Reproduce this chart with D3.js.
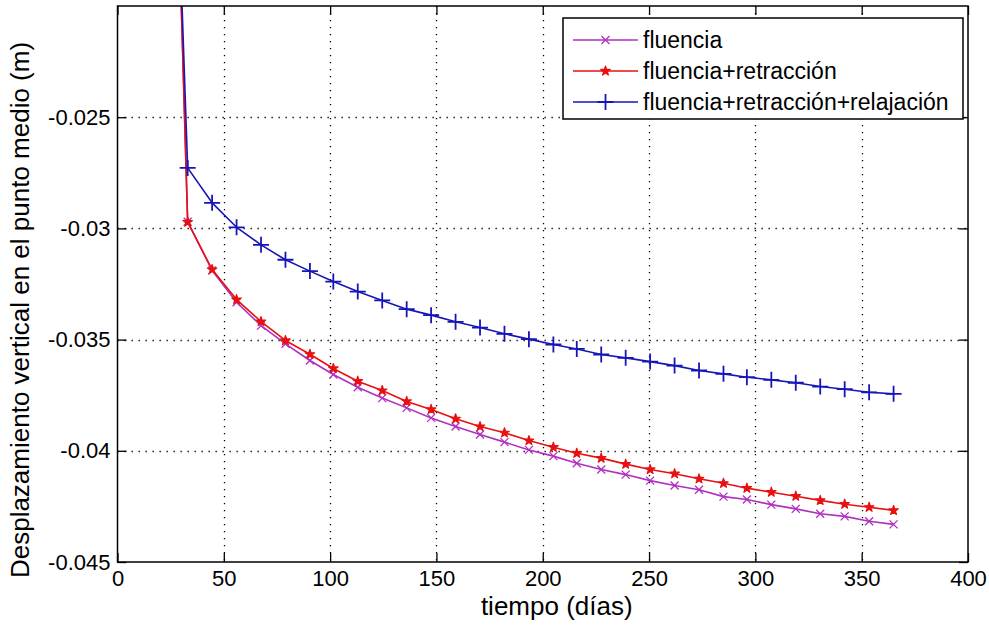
<!DOCTYPE html>
<html>
<head>
<meta charset="utf-8">
<script src="https://cdn.jsdelivr.net/npm/d3@7"></script>
<style>
  body { margin: 0; background: #fff; }
  text { font-family: "Liberation Sans", Arial, sans-serif; fill: #000; }
</style>
</head>
<body>
<div id="chart"></div>
<script>
// days of each sample (first one sits above the top of the axes)
const dias = [28, 33, 44.5, 56, 67.5, 79, 90.5, 101.5, 113, 124.5, 136, 147.5, 159, 170.5, 182, 193.5,
  205, 216, 227.5, 239, 250.5, 262, 273.5, 285, 296, 307.5, 319, 330.5, 342, 353.5, 365]

const fluencia = [-0.0135, -0.0297, -0.03189, -0.03332, -0.03437, -0.03519, -0.03594, -0.03657, -0.03714,
  -0.03763, -0.03807, -0.03852, -0.03891, -0.03927, -0.03961, -0.03996, -0.04024, -0.04056, -0.04084,
  -0.04107, -0.04134, -0.04156, -0.04175, -0.04206, -0.04219, -0.04242, -0.04261, -0.04283, -0.04295,
  -0.04317, -0.04331]

const fluenciaRetraccion = [-0.0135, -0.02972, -0.03185, -0.0332, -0.03419, -0.03504, -0.03566, -0.0363,
  -0.03687, -0.03729, -0.03778, -0.03814, -0.03856, -0.03891, -0.03919, -0.03954, -0.03984, -0.04011,
  -0.04033, -0.0406, -0.04084, -0.04103, -0.04126, -0.04146, -0.04168, -0.04186, -0.04204, -0.04223,
  -0.0424, -0.04254, -0.04268]

const fluenciaRetraccionRelajacion = [-0.0135, -0.02728, -0.02885, -0.02995, -0.03074, -0.03141, -0.03192,
  -0.03239, -0.03284, -0.03324, -0.03363, -0.0339, -0.0342, -0.03446, -0.03474, -0.03498, -0.03522,
  -0.03542, -0.03567, -0.03582, -0.03599, -0.03617, -0.03639, -0.03654, -0.03669, -0.03681, -0.03694,
  -0.03711, -0.03723, -0.03737, -0.03744]

const xTicks = [0, 50, 100, 150, 200, 250, 300, 350, 400]
const yTicks = [-0.045, -0.04, -0.035, -0.03, -0.025]

const seriesNames = ["fluencia", "fluencia+retracción", "fluencia+retracción+relajación"]

const W = 989, H = 628
const margin = {top: 6, right: 21, bottom: 66, left: 117.5}
const tickLen = 9

const series = [
  {name: seriesNames[0], values: fluencia, color: "#b030c0", marker: "x"},
  {name: seriesNames[1], values: fluenciaRetraccion, color: "#e81010", marker: "dot"},
  {name: seriesNames[2], values: fluenciaRetraccionRelajacion, color: "#1616b8", marker: "plus"},
]

const scaleX = d3.scaleLinear().domain([0, 400]).range([margin.left, W - margin.right])
const scaleY = d3.scaleLinear().domain([-0.045, -0.02]).range([H - margin.bottom, margin.top])

const svg = d3.select("#chart").append("svg")
  .attr("width", W)
  .attr("height", H)

svg.append("rect").attr("width", W).attr("height", H).attr("fill", "#fff")

svg.append("clipPath").attr("id", "plotClip")
  .append("rect")
    .attr("x", margin.left).attr("y", margin.top)
    .attr("width", W - margin.right - margin.left)
    .attr("height", H - margin.bottom - margin.top)

// dotted grid
const grid = svg.append("g")
  .attr("stroke", "#000")
  .attr("stroke-width", 1.3)
  .attr("stroke-dasharray", "1.3,5.7")
grid.selectAll("line.gx")
  .data(xTicks.slice(1, -1))
  .join("line")
    .attr("class", "gx")
    .attr("x1", d => Math.round(scaleX(d)) + 0.5)
    .attr("x2", d => Math.round(scaleX(d)) + 0.5)
    .attr("y1", margin.top)
    .attr("y2", H - margin.bottom)
grid.selectAll("line.gy")
  .data(yTicks.slice(1))
  .join("line")
    .attr("class", "gy")
    .attr("x1", margin.left)
    .attr("x2", W - margin.right)
    .attr("y1", d => Math.round(scaleY(d)) + 0.5)
    .attr("y2", d => Math.round(scaleY(d)) + 0.5)

// axes with inward ticks on all four sides
const fmt = d => String(d)
const axisFont = 22

const xAxis = svg.append("g")
  .attr("transform", `translate(0,${H - margin.bottom})`)
  .call(d3.axisBottom(scaleX).tickValues(xTicks).tickSize(-tickLen).tickPadding(8).tickFormat(fmt))
const xAxisTop = svg.append("g")
  .attr("transform", `translate(0,${margin.top})`)
  .call(d3.axisTop(scaleX).tickValues(xTicks).tickSize(-tickLen).tickFormat(""))
const yAxis = svg.append("g")
  .attr("transform", `translate(${margin.left},0)`)
  .call(d3.axisLeft(scaleY).tickValues(yTicks).tickSize(-tickLen).tickPadding(7).tickFormat(fmt))
const yAxisRight = svg.append("g")
  .attr("transform", `translate(${W - margin.right},0)`)
  .call(d3.axisRight(scaleY).tickValues(yTicks).tickSize(-tickLen).tickFormat(""))

for (const ax of [xAxis, xAxisTop, yAxis, yAxisRight]) {
  ax.select(".domain").remove()
  ax.selectAll(".tick line").attr("stroke", "#000").attr("stroke-width", 1.3)
  ax.selectAll(".tick text")
    .attr("font-size", axisFont)
    .attr("font-family", "Liberation Sans, Arial, sans-serif")
    .attr("fill", "#222")
}

// lines and markers
const line = d3.line()
  .x((d, i) => scaleX(dias[i]))
  .y(d => scaleY(d))

const plot = svg.append("g").attr("clip-path", "url(#plotClip)")

const markerPath = {
  x: "M-4,-4L4,4M-4,4L4,-4",
  plus: "M-8,0H8M0,-8V8",
}

function drawMarker(g, m, color) {
  if (m === "dot") {
    g.append("path")
      .attr("d", d3.symbol(d3.symbolStar, 28)())
      .attr("fill", color)
      .attr("stroke", color)
      .attr("stroke-width", 1.2)
      .attr("stroke-linejoin", "round")
  } else {
    g.append("path")
      .attr("d", markerPath[m])
      .attr("fill", "none")
      .attr("stroke", color)
      .attr("stroke-width", m === "plus" ? 1.8 : 1.3)
  }
}

for (const s of series) {
  plot.append("path")
    .datum(s.values)
    .attr("d", line)
    .attr("fill", "none")
    .attr("stroke", s.color)
    .attr("stroke-width", 1.6)
    .attr("stroke-linejoin", "round")

  plot.append("g")
    .selectAll("g")
    .data(s.values)
    .join("g")
      .attr("transform", (d, i) => `translate(${scaleX(dias[i])},${scaleY(d)})`)
      .each(function () { drawMarker(d3.select(this), s.marker, s.color) })
}

// axes box
svg.append("rect")
  .attr("x", margin.left)
  .attr("y", margin.top)
  .attr("width", W - margin.right - margin.left)
  .attr("height", H - margin.bottom - margin.top)
  .attr("fill", "none")
  .attr("stroke", "#000")
  .attr("stroke-width", 1.5)

// axis labels
svg.append("text")
  .attr("x", (margin.left + W - margin.right) / 2 + 14)
  .attr("y", 615)
  .attr("text-anchor", "middle")
  .attr("font-size", 26)
  .attr("fill", "#222")
  .text("tiempo (días)")

svg.append("text")
  .attr("transform", `translate(29,${310}) rotate(-90)`)
  .attr("text-anchor", "middle")
  .attr("font-size", 26)
  .attr("fill", "#222")
  .text("Desplazamiento vertical en el punto medio (m)")

// legend
const legend = svg.append("g").attr("transform", "translate(563,18)")
legend.append("rect")
  .attr("width", 400)
  .attr("height", 101)
  .attr("fill", "#fff")
  .attr("stroke", "#000")
  .attr("stroke-width", 1.5)

const rows = legend.selectAll("g.row")
  .data(series)
  .join("g")
    .attr("class", "row")
    .attr("transform", (d, i) => `translate(0,${22 + i * 31})`)

rows.append("line")
  .attr("x1", 10).attr("x2", 75)
  .attr("stroke", d => d.color)
  .attr("stroke-width", 1.4)
rows.append("g")
  .attr("transform", "translate(42.5,0)")
  .each(function (d) { drawMarker(d3.select(this), d.marker, d.color) })
rows.append("text")
  .attr("x", 80)
  .attr("dy", "0.35em")
  .attr("font-size", 23)
  .attr("fill", "#222")
  .text(d => d.name)
</script>
</body>
</html>
